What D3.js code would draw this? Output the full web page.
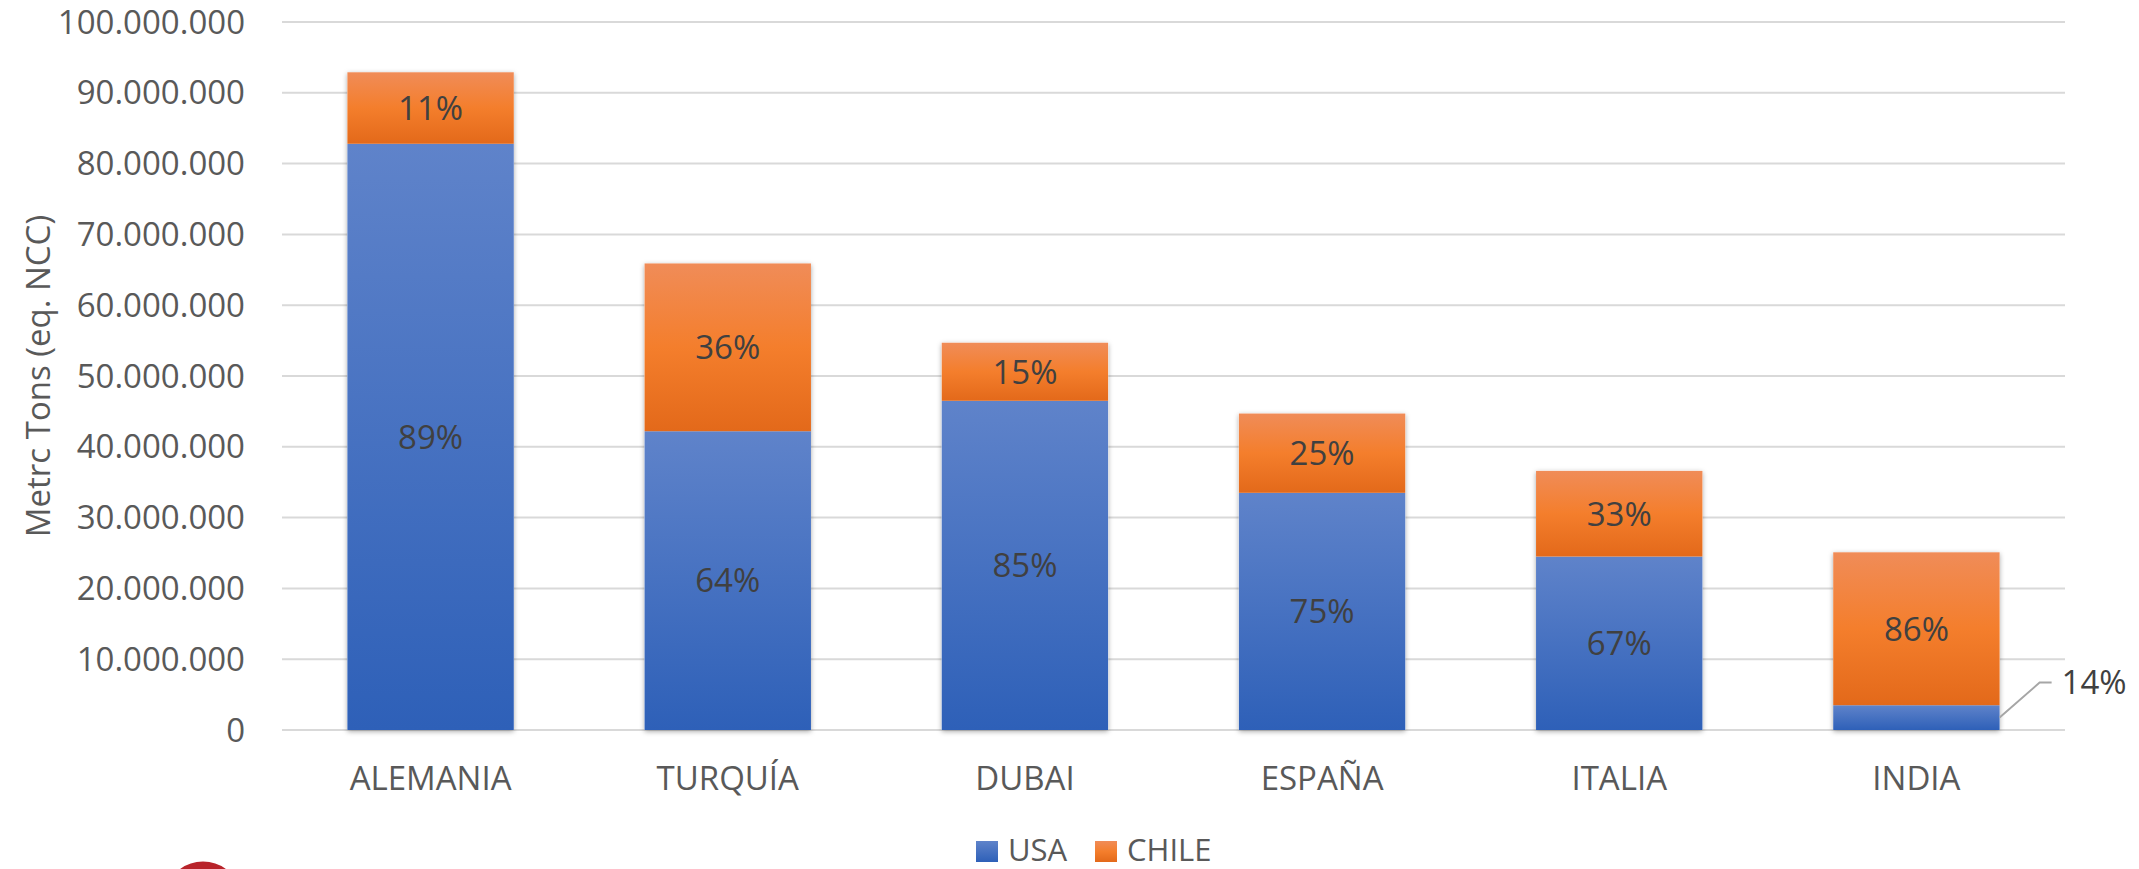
<!DOCTYPE html>
<html>
<head>
<meta charset="utf-8">
<script src="https://cdn.jsdelivr.net/npm/d3@7"></script>
<style>
  html, body { margin: 0; padding: 0; background: #fff; }
  svg { display: block; }
  text { font-family: "Open Sans", "Liberation Sans", sans-serif; }
</style>
</head>
<body>
<svg id="chart" width="2139" height="869"></svg>
<script>
// ---- data ----
const categories = ["ALEMANIA", "TURQUÍA", "DUBAI", "ESPAÑA", "ITALIA", "INDIA"];
const seriesNames = ["USA", "CHILE"];
const usa   = [82800000, 42200000, 46500000, 33500000, 24500000, 3500000];
const chile = [10100000, 23700000,  8200000, 11200000, 12100000, 21600000];
const yTicks = [0, 10000000, 20000000, 30000000, 40000000, 50000000, 60000000, 70000000, 80000000, 90000000, 100000000];
const yTitle = "Metrc Tons (eq. NCC)";

// ---- layout ----
const W = 2139, H = 869;
const plot = { left: 282, right: 2065, top: 22, bottom: 730 };
const svg = d3.select("#chart");

const locale = d3.formatLocale({ decimal: ",", thousands: ".", grouping: [3], currency: ["", ""] });
const fmt = locale.format(",d");

const x = d3.scaleBand().domain(categories).range([plot.left, plot.right])
  .paddingInner(0.44).paddingOuter(0.22);
const y = d3.scaleLinear().domain([0, 100000000]).range([plot.bottom, plot.top]);

const table = categories.map((c, i) => ({ cat: c, USA: usa[i], CHILE: chile[i] }));
const stacked = d3.stack().keys(seriesNames)(table);

// defs: gradients + shadow
const defs = svg.append("defs");
const grads = {
  USA: [["0%", "#5f83ca"], ["100%", "#2e60b8"]],
  CHILE: [["0%", "#f08c58"], ["50%", "#f47e2c"], ["100%", "#e3691a"]]
};
Object.entries(grads).forEach(([k, stops]) => {
  const g = defs.append("linearGradient").attr("id", "g-" + k)
    .attr("x1", 0).attr("y1", 0).attr("x2", 0).attr("y2", 1);
  stops.forEach(s => g.append("stop").attr("offset", s[0]).attr("stop-color", s[1]));
});
const f = defs.append("filter").attr("id", "shadow")
  .attr("x", "-10%").attr("y", "-10%").attr("width", "120%").attr("height", "120%");
f.append("feDropShadow").attr("dx", 0).attr("dy", 1.5).attr("stdDeviation", 2.5)
  .attr("flood-color", "#000").attr("flood-opacity", 0.35);

// gridlines
svg.append("g").selectAll("line").data(yTicks).join("line")
  .attr("x1", plot.left).attr("x2", plot.right)
  .attr("y1", d => y(d)).attr("y2", d => y(d))
  .attr("stroke", "#d9d9d9").attr("stroke-width", 2);

// y tick labels
svg.append("g").selectAll("text").data(yTicks).join("text")
  .attr("x", 245).attr("y", d => y(d)).attr("dy", "0.35em")
  .attr("text-anchor", "end").attr("font-size", 33).attr("fill", "#595959")
  .text(d => fmt(d));

// y title
svg.append("text")
  .attr("transform", `translate(50, ${(plot.top + plot.bottom) / 2}) rotate(-90)`)
  .attr("text-anchor", "middle").attr("font-size", 33).attr("fill", "#595959")
  .text(yTitle);

// bars: shadow layer (whole stacks), then segments
svg.append("g").selectAll("rect").data(table).join("rect")
  .attr("x", d => x(d.cat)).attr("width", x.bandwidth())
  .attr("y", d => y(d.USA + d.CHILE))
  .attr("height", d => y(0) - y(d.USA + d.CHILE))
  .attr("fill", "#fff").attr("filter", "url(#shadow)");

const segG = svg.append("g");
stacked.forEach(layer => {
  segG.append("g").selectAll("rect").data(layer).join("rect")
    .attr("x", d => x(d.data.cat)).attr("width", x.bandwidth())
    .attr("y", d => y(d[1])).attr("height", d => y(d[0]) - y(d[1]))
    .attr("fill", `url(#g-${layer.key})`);
});

// percentage labels
const labG = svg.append("g");
stacked.forEach(layer => {
  layer.forEach(d => {
    const total = d.data.USA + d.data.CHILE;
    const pct = Math.round((d[1] - d[0]) / total * 100) + "%";
    const h = y(d[0]) - y(d[1]);
    const cx = x(d.data.cat) + x.bandwidth() / 2;
    if (h > 40) {
      labG.append("text").attr("x", cx).attr("y", (y(d[0]) + y(d[1])) / 2)
        .attr("dy", "0.36em").attr("text-anchor", "middle")
        .attr("font-size", 33).attr("fill", "#404040").text(pct);
    } else {
      const bx = x(d.data.cat) + x.bandwidth();
      const by = (y(d[0]) + y(d[1])) / 2;
      labG.append("polyline")
        .attr("points", `${bx},${by} ${bx + 40},${by - 35} ${bx + 52},${by - 35}`)
        .attr("fill", "none").attr("stroke", "#a6a6a6").attr("stroke-width", 2);
      labG.append("text").attr("x", bx + 62).attr("y", by - 35)
        .attr("dy", "0.36em").attr("text-anchor", "start")
        .attr("font-size", 33).attr("fill", "#404040").text(pct);
    }
  });
});

// category labels
svg.append("g").selectAll("text").data(categories).join("text")
  .attr("x", d => x(d) + x.bandwidth() / 2).attr("y", 790)
  .attr("text-anchor", "middle").attr("font-size", 33).attr("fill", "#595959")
  .text(d => d);

// legend
const legend = svg.append("g");
const legX = [976, 1095];
seriesNames.forEach((s, i) => {
  legend.append("rect").attr("x", legX[i]).attr("y", 841).attr("width", 22).attr("height", 21)
    .attr("fill", `url(#g-${s})`);
  legend.append("text").attr("x", legX[i] + 32).attr("y", 861)
    .attr("font-size", 31).attr("fill", "#595959").text(s);
});

// partial red logo at bottom-left
svg.append("circle").attr("cx", 203).attr("cy", 900).attr("r", 34)
  .attr("fill", "none").attr("stroke", "#b8232a").attr("stroke-width", 9);
</script>
</body>
</html>
